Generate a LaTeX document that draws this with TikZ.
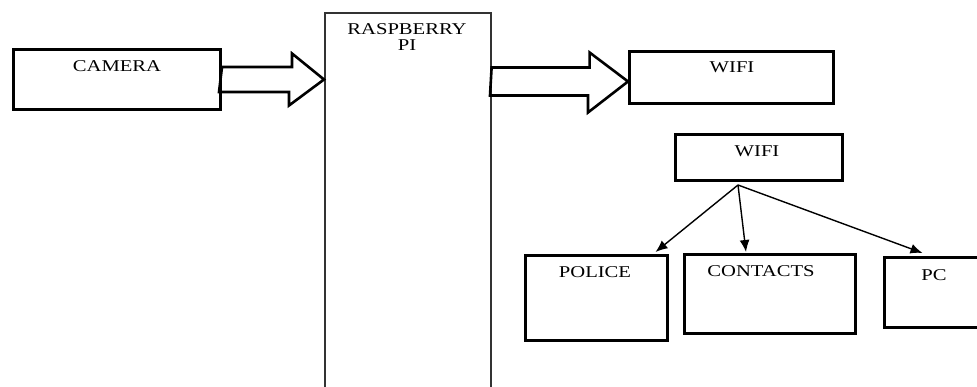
\documentclass[tikz,border=0pt]{standalone}
\usepackage{fontspec}
\setmainfont{Liberation Serif}[FakeStretch=1.25]
\usetikzlibrary{calc, arrows.meta}

\begin{document}
\begin{tikzpicture}
    [
      x=1pt, y=-1pt,
      box/.style={draw, line width=3pt, anchor=north west, inner sep=0pt},
      thinbox/.style={draw=black!80, line width=1.6pt, anchor=north west, inner sep=0pt},
      boxtext/.style={anchor=base, inner sep=0pt, font=\fontsize{16.5}{16}\selectfont},
      hollow/.style={line width=2.6pt, line join=miter},
      link/.style={line width=1.4pt, ->, >={Latex[length=12pt,width=10pt]}}
    ]
    \clip (0,0) rectangle (977,387);
    % boxes
    \node [box, minimum width=207pt, minimum height=60pt] (cam) at (12,48) {};
    \node [thinbox, minimum width=166pt, minimum height=420pt] (rpi) at (324,12) {};
    \node [box, minimum width=204pt, minimum height=52pt] (wifiA) at (628,50) {};
    \node [box, minimum width=167pt, minimum height=46pt] (wifiB) at (674,133) {};
    \node [box, minimum width=142pt, minimum height=85pt] (police) at (524,254) {};
    \node [box, minimum width=171pt, minimum height=79pt] (contacts) at (683,253) {};
    \node [box, minimum width=102pt, minimum height=70pt] (pc) at (883,256) {};
    % labels
    \node [boxtext] (camT) at (117,72) {CAMERA};
    \node [boxtext, align=center, anchor=north] (rpiT) at (407,23) {RASPBERRY\\PI};
    \node [boxtext] (wifiAT) at (732,73) {WIFI};
    \node [boxtext] (wifiBT) at (757,157) {WIFI};
    \node [boxtext] (policeT) at (595,278) {POLICE};
    \node [boxtext] (contactsT) at (761,277) {CONTACTS};
    \node [boxtext] (pcT) at (934,280) {PC};
    % hollow arrows
    \draw [hollow] (cam.east) ++(0,-12.5) -- ++(70,0) -- ++(0,-13.5)
      -- (rpi.west |- cam.east) -- ++(-35,26) -- ++(0,-13.5) -- ++(-70,0) -- cycle;
    \coordinate (tipA) at ($(wifiA.west)+(0,4)$);
    \draw [hollow] (rpi.east |- tipA) ++(0,-14) -- ++(98,0) -- ++(0,-15)
      -- (tipA) -- ++(-40,31) -- ++(0,-17) -- ++(-98,0) -- cycle;
    % links from wifi
    \coordinate (hub) at ($(wifiB.south)+(-21,3)$);
    \draw [link] (hub) -- ($(police.north)+(59,-2)$);
    \draw [link] (hub) -- ($(contacts.north)+(-24,-1)$);
    \draw [link] (hub) -- ($(pc.north)+(-13,-3)$);
\end{tikzpicture}
\end{document}
